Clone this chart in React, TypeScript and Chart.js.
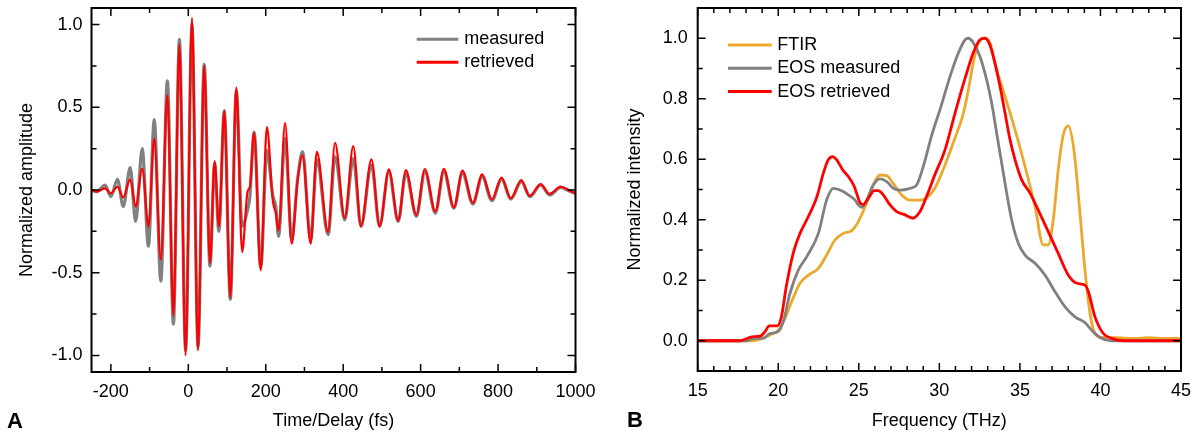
import React, { useEffect, useRef } from "react";
import { Chart, registerables } from "chart.js";

Chart.register(...registerables);

// ---------- Panel A: time-domain waveform (extrema) ----------
const timeFs = [
  -250, -236, -215, -200, -183, -168, -150, -136, -119, -103, -88, -71, -54, -38.5, -23, -7, 9.5, 25, 41, 56,
  68, 79, 93, 108.5, 124, 139, 153, 159, 170, 187, 203, 218, 226, 233, 250, 267, 282, 295, 316, 332,
  361, 379, 404, 426, 446, 473, 494, 518, 542, 562, 589, 611, 638, 660, 686, 708, 735, 759, 784, 809,
  833, 860, 882, 910, 933, 962, 985, 1000,
];
const retrievedAmp = [
  0.0, -0.01, 0.01, -0.02, 0.02, -0.045, 0.065, -0.1, 0.13, -0.22, 0.31, -0.42, 0.575, -0.76, 0.88, -1.0, 1.04, -0.97, 0.75, -0.44,
  0.175, -0.22, 0.475, -0.65, 0.62, -0.375, -0.01, 0.02, 0.345, -0.485, 0.38, -0.06, -0.14, -0.245, 0.405, -0.325, 0.05, 0.21, -0.325, 0.23,
  -0.255, 0.285, -0.17, 0.265, -0.22, 0.185, -0.22, 0.125, -0.185, 0.12, -0.15, 0.127, -0.13, 0.128, -0.105, 0.117, -0.077, 0.095, -0.057, 0.075,
  -0.05, 0.06, -0.036, 0.036, -0.024, 0.02, -0.004, -0.02,
];
const measuredAmp = [
  0.0, -0.01, 0.03, -0.04, 0.065, -0.1, 0.135, -0.19, 0.25, -0.34, 0.425, -0.55, 0.66, -0.81, 0.91, -0.97, 1.0, -0.95, 0.76, -0.46,
  0.16, -0.25, 0.48, -0.66, 0.6, -0.22, -0.12, -0.04, 0.35, -0.47, 0.24, -0.03, -0.1, -0.28, 0.31, -0.3, 0.06, 0.23, -0.3, 0.18,
  -0.27, 0.2, -0.18, 0.19, -0.22, 0.15, -0.22, 0.11, -0.19, 0.1, -0.16, 0.11, -0.14, 0.11, -0.11, 0.1, -0.085, 0.08, -0.065, 0.065,
  -0.055, 0.05, -0.04, 0.03, -0.03, 0.015, -0.008, -0.02,
];
const timeTicks = [-200, 0, 200, 400, 600, 800, 1000];
const timeMinorTicks = [-100, 100, 300, 500, 700, 900];
const ampTicks = [-1.0, -0.5, 0.0, 0.5, 1.0];
const ampMinorTicks = [-0.75, -0.25, 0.25, 0.75];

// ---------- Panel B: spectra ----------
const ftirFreq = [
  15, 18.4, 18.87, 19.49, 20.0, 20.42, 20.83, 21.35, 21.87, 22.49, 23.0, 23.52, 24.04, 24.56, 24.97, 25.39, 25.9, 26.32, 26.73, 27.14,
  27.66, 28.18, 28.8, 29.31, 29.78, 30.35, 30.97, 31.49, 31.8, 32.1, 32.42, 32.83, 33.14, 33.56, 34.08, 34.7, 35.32, 35.94, 36.45, 36.76,
  37.07, 37.38, 37.69, 38.0, 38.38, 38.73, 39.04, 39.35, 39.66, 40.08, 41, 42, 43, 44, 45,
];
const ftirIntensity = [
  0, 0, 0.005, 0.019, 0.035, 0.074, 0.129, 0.19, 0.217, 0.239, 0.283, 0.333, 0.355, 0.364, 0.394, 0.443, 0.515, 0.548, 0.546, 0.52,
  0.482, 0.465, 0.465, 0.476, 0.51, 0.581, 0.67, 0.752, 0.829, 0.918, 0.984, 1.0, 0.984, 0.895, 0.807, 0.697, 0.576, 0.443, 0.317, 0.317,
  0.399, 0.565, 0.68, 0.71, 0.62, 0.421, 0.234, 0.091, 0.024, 0.011, 0.01, 0.008, 0.01, 0.008, 0.008,
];
const eosMeasFreq = [
  15, 17.9, 18.14, 18.56, 19.07, 19.49, 20.0, 20.31, 20.73, 21.25, 21.77, 22.49, 23.0, 23.42, 23.94, 24.35, 24.77, 24.97, 25.18, 25.49,
  25.9, 26.32, 26.73, 27.14, 27.56, 28.18, 28.59, 29.0, 29.53, 30.1, 30.66, 31.18, 31.6, 31.8, 32.1, 32.52, 32.94, 33.25, 33.56, 33.87,
  34.18, 34.49, 34.9, 35.32, 35.94, 36.56, 37.18, 37.8, 38.42, 39.04, 39.46, 39.97, 40.7, 45,
];
const eosMeasIntensity = [
  0, 0, 0.002, 0.008, 0.008, 0.024, 0.03, 0.063, 0.157, 0.234, 0.278, 0.355, 0.465, 0.504, 0.496, 0.482, 0.465, 0.449, 0.441, 0.465,
  0.515, 0.535, 0.526, 0.504, 0.498, 0.504, 0.515, 0.576, 0.68, 0.774, 0.873, 0.951, 0.995, 1.0, 0.986, 0.94, 0.862, 0.785, 0.686, 0.587,
  0.488, 0.399, 0.322, 0.283, 0.256, 0.217, 0.162, 0.112, 0.079, 0.06, 0.035, 0.011, 0.0, 0.0,
];
const eosRetFreq = [
  15, 17.6, 17.94, 18.35, 18.87, 19.18, 19.43, 19.94, 20.2, 20.5, 20.93, 21.35, 21.77, 22.4, 22.8, 23.1, 23.38, 23.63, 24.0, 24.35,
  24.72, 25.07, 25.28, 25.59, 25.96, 26.2, 26.52, 26.94, 27.35, 27.87, 28.35, 28.8, 29.2, 29.73, 30.35, 30.97, 31.6, 32.1, 32.52, 32.83,
  33.14, 33.45, 33.77, 34.08, 34.39, 34.7, 35.11, 35.63, 36.14, 36.76, 37.38, 38.0, 38.53, 39.04, 39.25, 39.66, 40.18, 40.7, 41.5, 45,
];
const eosRetIntensity = [
  0, 0, 0.005, 0.013, 0.015, 0.03, 0.049, 0.049, 0.08, 0.18, 0.29, 0.355, 0.4, 0.476, 0.554, 0.598, 0.609, 0.598, 0.565, 0.543,
  0.51, 0.457, 0.45, 0.471, 0.496, 0.496, 0.482, 0.449, 0.427, 0.416, 0.405, 0.427, 0.476, 0.55, 0.631, 0.752, 0.868, 0.951, 0.995, 1.0,
  0.978, 0.918, 0.84, 0.752, 0.664, 0.598, 0.532, 0.488, 0.432, 0.361, 0.289, 0.217, 0.19, 0.184, 0.162, 0.079, 0.024, 0.008, 0, 0,
];
const freqTicks = [15, 20, 25, 30, 35, 40, 45];
const freqMinorTicks = [16, 17, 18, 19, 21, 22, 23, 24, 26, 27, 28, 29, 31, 32, 33, 34, 36, 37, 38, 39, 41, 42, 43, 44];
const intensityTicks = [0.0, 0.2, 0.4, 0.6, 0.8, 1.0];
const intensityMinorTicks = [0.1, 0.3, 0.5, 0.7, 0.9];

const FONT = '"Liberation Sans", Arial, Helvetica, sans-serif';
Chart.defaults.font.family = FONT;
Chart.defaults.font.size = 18;
Chart.defaults.color = "#000";

const pts = (xs: number[], ys: number[]) => xs.map((x, i) => ({ x, y: ys[i] }));

const decorPlugin = {
  id: "decor",
  afterDraw(chart: any, _args: any, o: any) {
    const { ctx, chartArea: a } = chart;
    const xs = chart.scales.x;
    const ys = chart.scales.y;
    ctx.save();
    ctx.strokeStyle = "#000";
    ctx.lineWidth = 1.5;
    ctx.beginPath();
    const xt = (vals: number[], len: number) =>
      vals.forEach((v) => {
        const p = xs.getPixelForValue(v);
        ctx.moveTo(p, a.bottom);
        ctx.lineTo(p, a.bottom - len);
        ctx.moveTo(p, a.top);
        ctx.lineTo(p, a.top + len);
      });
    const yt = (vals: number[], len: number) =>
      vals.forEach((v) => {
        const p = ys.getPixelForValue(v);
        ctx.moveTo(a.left, p);
        ctx.lineTo(a.left + len, p);
        ctx.moveTo(a.right, p);
        ctx.lineTo(a.right - len, p);
      });
    xt(o.xMajor, 8);
    xt(o.xMinor, 5);
    yt(o.yMajor, 8);
    yt(o.yMinor, 5);
    ctx.stroke();
    ctx.lineWidth = 2;
    ctx.strokeRect(a.left, a.top, a.right - a.left, a.bottom - a.top);

    // legend
    ctx.font = `18px ${FONT}`;
    ctx.textBaseline = "middle";
    ctx.textAlign = "left";
    o.legendOrder.forEach((di: number, k: number) => {
      const ds = chart.data.datasets[di];
      const y = o.legend.y + k * o.legend.dy;
      ctx.strokeStyle = ds.borderColor;
      ctx.lineWidth = 3;
      ctx.beginPath();
      ctx.moveTo(o.legend.x0, y);
      ctx.lineTo(o.legend.x1, y);
      ctx.stroke();
      ctx.fillStyle = "#000";
      ctx.fillText(ds.label, o.legend.tx, y);
    });

    // panel letter
    ctx.font = `bold 22px ${FONT}`;
    ctx.textBaseline = "alphabetic";
    ctx.fillStyle = "#000";
    ctx.fillText(o.letter, o.letterX, o.letterY);
    ctx.restore();
  },
};

function makeScales(opts: any) {
  return {
    x: {
      type: "linear",
      min: opts.xMin,
      max: opts.xMax,
      grid: { display: false, drawTicks: false, tickLength: 0 },
      border: { display: false },
      afterBuildTicks: (s: any) => {
        s.ticks = opts.xTicks.map((v: number) => ({ value: v }));
      },
      afterFit: (s: any) => {
        s.height = opts.xHeight;
        s.paddingLeft = 0;
        s.paddingRight = 0;
      },
      ticks: { padding: 9, font: { size: 18 }, maxRotation: 0, autoSkip: false, callback: (v: any) => String(v) },
      title: { display: true, text: opts.xTitle, font: { size: 18 }, padding: { top: 0, bottom: 2 } },
    },
    y: {
      type: "linear",
      min: opts.yMin,
      max: opts.yMax,
      grid: { display: false, drawTicks: false, tickLength: 0 },
      border: { display: false },
      afterBuildTicks: (s: any) => {
        s.ticks = opts.yTicks.map((v: number) => ({ value: v }));
      },
      afterFit: (s: any) => {
        s.width = opts.yWidth;
        s.paddingTop = 0;
        s.paddingBottom = 0;
      },
      ticks: { padding: opts.yPad, font: { size: 18 }, autoSkip: false, callback: (v: any) => Number(v).toFixed(1) },
      title: { display: true, text: opts.yTitle, font: { size: 18 }, padding: { top: opts.yTitlePad, bottom: 0 } },
    },
  };
}

function configA(): any {
  return {
    type: "line",
    data: {
      datasets: [
        {
          label: "retrieved",
          data: pts(timeFs, retrievedAmp),
          borderColor: "#ff0000",
          borderWidth: 2.2,
          pointRadius: 0,
          cubicInterpolationMode: "monotone",
          order: 0,
        },
        {
          label: "measured",
          data: pts(timeFs, measuredAmp),
          borderColor: "#808080",
          borderWidth: 3.2,
          pointRadius: 0,
          cubicInterpolationMode: "monotone",
          order: 1,
        },
      ],
    },
    options: {
      responsive: false,
      animation: false,
      layout: { padding: { left: 0, right: 21.5, top: 8, bottom: 0 } },
      plugins: {
        legend: { display: false },
        tooltip: { enabled: false },
        decor: {
          xMajor: timeTicks,
          xMinor: timeMinorTicks,
          yMajor: ampTicks,
          yMinor: ampMinorTicks,
          legendOrder: [1, 0],
          legend: { x0: 416.7, x1: 458.3, tx: 464.3, y: 39.3, dy: 23 },
          letter: "A",
          letterX: 7,
          letterY: 428,
        },
      },
      scales: makeScales({
        xMin: -250,
        xMax: 1000,
        xTicks: timeTicks,
        xHeight: 62,
        xTitle: "Time/Delay (fs)",
        yMin: -1.1,
        yMax: 1.1,
        yTicks: ampTicks,
        yWidth: 91.5,
        yPad: 9,
        yTitle: "Normalized amplitude",
        yTitlePad: 16,
      }),
    },
    plugins: [decorPlugin],
  };
}

function configB(): any {
  return {
    type: "line",
    data: {
      datasets: [
        {
          label: "EOS retrieved",
          data: pts(eosRetFreq, eosRetIntensity),
          borderColor: "#ff0000",
          borderWidth: 2.8,
          pointRadius: 0,
          cubicInterpolationMode: "monotone",
          order: 0,
        },
        {
          label: "EOS measured",
          data: pts(eosMeasFreq, eosMeasIntensity),
          borderColor: "#808080",
          borderWidth: 2.8,
          pointRadius: 0,
          cubicInterpolationMode: "monotone",
          order: 1,
        },
        {
          label: "FTIR",
          data: pts(ftirFreq, ftirIntensity),
          borderColor: "#eaa92c",
          borderWidth: 2.8,
          pointRadius: 0,
          cubicInterpolationMode: "monotone",
          order: 2,
        },
      ],
    },
    options: {
      responsive: false,
      animation: false,
      layout: { padding: { left: 0, right: 13, top: 8, bottom: 0 } },
      plugins: {
        legend: { display: false },
        tooltip: { enabled: false },
        decor: {
          xMajor: freqTicks,
          xMinor: freqMinorTicks,
          yMajor: intensityTicks,
          yMinor: intensityMinorTicks,
          legendOrder: [2, 1, 0],
          legend: { x0: 131, x1: 174.7, tx: 180.3, y: 45, dy: 23.3 },
          letter: "B",
          letterX: 30,
          letterY: 427,
        },
      },
      scales: makeScales({
        xMin: 15,
        xMax: 45,
        xTicks: freqTicks,
        xHeight: 63,
        xTitle: "Frequency (THz)",
        yMin: -0.1,
        yMax: 1.1,
        yTicks: intensityTicks,
        yWidth: 100.7,
        yPad: 10,
        yTitle: "Normalized intensity",
        yTitlePad: 27,
      }),
    },
    plugins: [decorPlugin],
  };
}

function Panel({ make, left }: { make: () => any; left: number }) {
  const ref = useRef<HTMLCanvasElement>(null);
  useEffect(() => {
    const chart = new Chart(ref.current as HTMLCanvasElement, make());
    return () => chart.destroy();
  }, []);
  return (
    <canvas
      ref={ref}
      width={597}
      height={434}
      style={{ position: "absolute", left, top: 0, width: 597, height: 434, display: "block" }}
    />
  );
}

export default function App() {
  return (
    <div style={{ position: "absolute", left: 0, top: 0, width: 1194, height: 434, background: "#fff", overflow: "hidden" }}>
      <Panel make={configA} left={0} />
      <Panel make={configB} left={597} />
    </div>
  );
}
